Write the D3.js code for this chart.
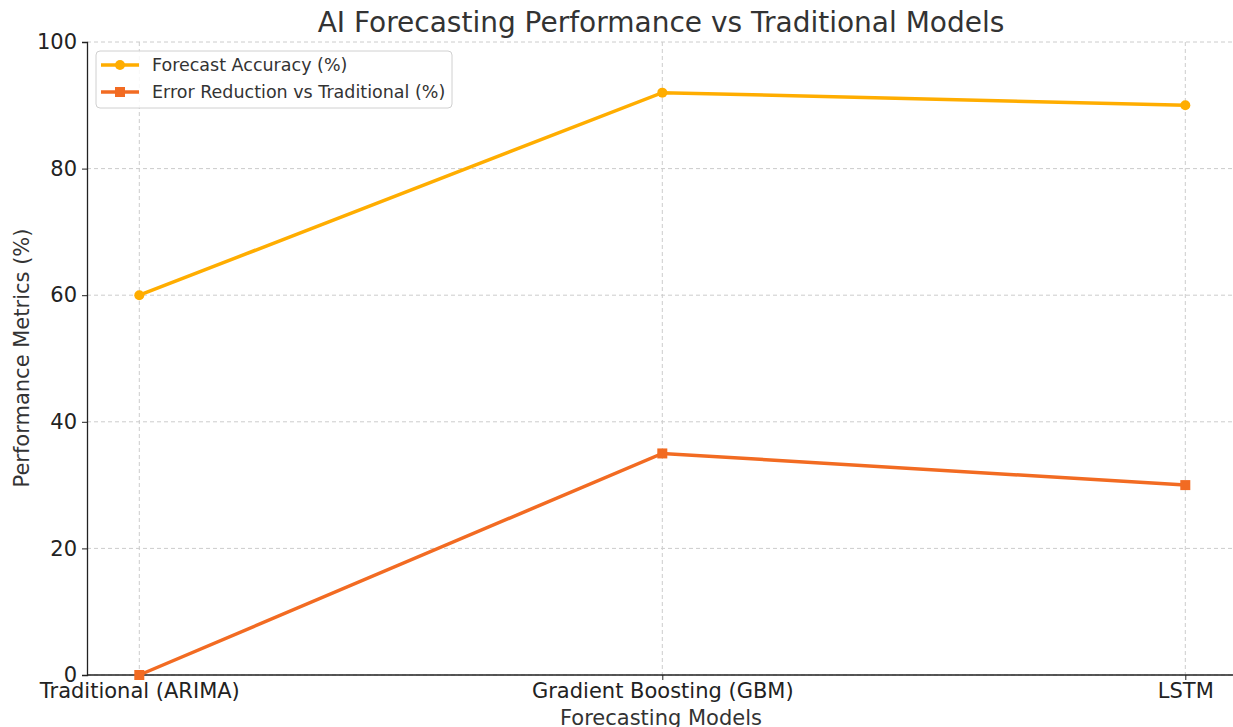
<!DOCTYPE html>
<html>
<head>
<meta charset="utf-8">
<script src="https://cdn.jsdelivr.net/npm/d3@7"></script>
<style>
  body { margin: 0; background: #fff; }
  text { font-family: "DejaVu Sans", sans-serif; }
</style>
</head>
<body>
<div id="chart"></div>
<script>
// data
const models = ["Traditional (ARIMA)", "Gradient Boosting (GBM)", "LSTM"];
const accuracy = [60, 92, 90];
const errorReduction = [0, 35, 30];
const yTicks = [0, 20, 40, 60, 80, 100];

const series = [
  { name: "Forecast Accuracy (%)", values: accuracy, color: "#FFAD00", marker: "circle" },
  { name: "Error Reduction vs Traditional (%)", values: errorReduction, color: "#F26B22", marker: "square" }
];

const width = 1233, height = 727;
const margin = { left: 87, top: 42, bottom: 52 };
const plotBottom = height - margin.bottom;

const svg = d3.select("#chart").append("svg")
  .attr("width", width).attr("height", height);

// matplotlib-like 5% margins on a point axis
const x = d3.scaleLinear().domain([-0.1, 2.1]).range([margin.left, margin.left + 2.2 * 523]);
const y = d3.scaleLinear().domain([0, 100]).range([plotBottom, margin.top]);

// grid
const grid = svg.append("g").attr("stroke", "#cccccc").attr("stroke-dasharray", "4,3").attr("stroke-width", 1);
grid.selectAll(".gy").data(yTicks).enter().append("line")
  .attr("x1", margin.left).attr("x2", width)
  .attr("y1", d => y(d)).attr("y2", d => y(d));
grid.selectAll(".gx").data(models).enter().append("line")
  .attr("x1", (d, i) => x(i)).attr("x2", (d, i) => x(i))
  .attr("y1", margin.top).attr("y2", plotBottom);

// axes
const yAxis = svg.append("g").attr("transform", `translate(${margin.left},0)`)
  .call(d3.axisLeft(y).tickValues(yTicks).tickSize(5).tickPadding(5));
const xAxis = svg.append("g").attr("transform", `translate(0,${plotBottom})`)
  .call(d3.axisBottom(x).tickValues([0, 1, 2]).tickFormat(i => models[i]).tickSize(5).tickPadding(3));
[xAxis, yAxis].forEach(a => {
  a.select(".domain").attr("stroke", "#222").attr("stroke-width", 1.3);
  a.selectAll(".tick line").attr("stroke", "#222");
  a.selectAll(".tick text").attr("fill", "#222").style("font-size", "21px").style("font-family", "DejaVu Sans");
});
xAxis.select(".domain").attr("d", `M${margin.left},0H${width}`);

// lines + markers
const line = d3.line().x((d, i) => x(i)).y(d => y(d));
series.forEach(s => {
  svg.append("path").datum(s.values)
    .attr("d", line).attr("fill", "none")
    .attr("stroke", s.color).attr("stroke-width", 3.5);
  if (s.marker === "circle") {
    svg.selectAll(null).data(s.values).enter().append("circle")
      .attr("cx", (d, i) => x(i)).attr("cy", d => y(d)).attr("r", 5)
      .attr("fill", s.color);
  } else {
    svg.selectAll(null).data(s.values).enter().append("rect")
      .attr("x", (d, i) => x(i) - 5).attr("y", d => y(d) - 5)
      .attr("width", 10).attr("height", 10).attr("fill", s.color);
  }
});

// title and axis labels
svg.append("text").attr("x", 661).attr("y", 32).attr("text-anchor", "middle")
  .attr("fill", "#333").style("font-size", "28px").text("AI Forecasting Performance vs Traditional Models");
svg.append("text").attr("x", 661).attr("y", 725).attr("text-anchor", "middle")
  .attr("fill", "#333").style("font-size", "21px").text("Forecasting Models");
svg.append("text").attr("transform", "translate(29,358) rotate(-90)").attr("text-anchor", "middle")
  .attr("fill", "#333").style("font-size", "21px").text("Performance Metrics (%)");

// legend
const lg = svg.append("g").attr("transform", "translate(96,51)");
lg.append("rect").attr("width", 356).attr("height", 57).attr("rx", 4)
  .attr("fill", "#fff").attr("fill-opacity", 0.85).attr("stroke", "#d0d0d0");
series.forEach((s, i) => {
  const cy = 14 + i * 27;
  lg.append("line").attr("x1", 5).attr("x2", 43).attr("y1", cy).attr("y2", cy)
    .attr("stroke", s.color).attr("stroke-width", 3.5);
  if (s.marker === "circle") {
    lg.append("circle").attr("cx", 24).attr("cy", cy).attr("r", 5).attr("fill", s.color);
  } else {
    lg.append("rect").attr("x", 19).attr("y", cy - 5).attr("width", 10).attr("height", 10).attr("fill", s.color);
  }
  lg.append("text").attr("x", 56).attr("y", cy + 6).attr("fill", "#333")
    .style("font-size", "17.5px").text(s.name);
});
</script>
</body>
</html>
